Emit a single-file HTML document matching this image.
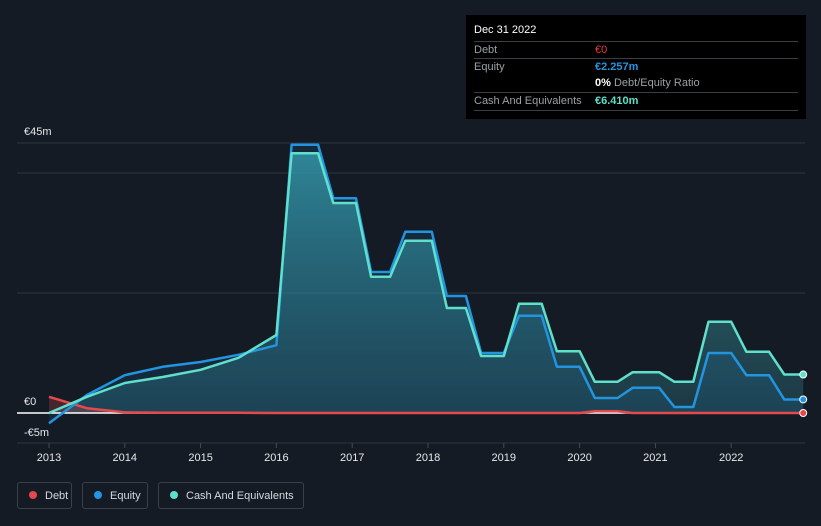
<!DOCTYPE html>
<html><head><meta charset="utf-8"><style>
body{margin:0;background:#151b24;font-family:"Liberation Sans",sans-serif;}
#wrap{position:relative;width:821px;height:526px;overflow:hidden;background:#151b24;}
svg{position:absolute;left:0;top:0}
.tip{position:absolute;left:466px;top:15px;width:340px;height:104px;background:#000;color:#9aa0a6;font-size:11px}
.tip .row{position:absolute;left:8px;right:8px;border-top:1px solid #3a3f45;height:17px;line-height:17px}
.leg{position:absolute;top:482px;height:27px;border:1px solid #3a4049;border-radius:3px;color:#d6d9dc;font-size:11px;line-height:27px;box-sizing:border-box}
.leg i{display:inline-block;width:8px;height:8px;border-radius:50%;margin:0 8px 0 11px;vertical-align:-0px}
</style></head><body>
<div id="wrap">
<svg id="chart" width="821" height="526"></svg>
<div class="tip">
 <div style="position:absolute;left:8px;top:9px;color:#fff;font-size:11px">Dec 31 2022</div>
 <div class="row" style="top:26px">Debt<span style="position:absolute;left:121px;color:#e5393c">€0</span></div>
 <div class="row" style="top:43px">Equity<span style="position:absolute;left:121px;color:#2394df;font-weight:bold">€2.257m</span></div>
 <div class="row" style="top:60px;border-top:none"><span style="position:absolute;left:121px"><b style="color:#fff">0%</b> Debt/Equity Ratio</span></div>
 <div class="row" style="top:77px;border-bottom:1px solid #3a3f45">Cash And Equivalents<span style="position:absolute;left:121px;color:#5fe0cc;font-weight:bold">€6.410m</span></div>
</div>
<div class="leg" style="left:17px;width:55px"><i style="background:#e5484d"></i>Debt</div>
<div class="leg" style="left:82px;width:66px"><i style="background:#2394df"></i>Equity</div>
<div class="leg" style="left:158px;width:146px"><i style="background:#5fe0cc"></i>Cash And Equivalents</div>
</div>
<script>
const years=[2013,2013.5,2014,2014.5,2015,2015.5,2016,2016.2,2016.55,2016.75,2017.05,2017.25,2017.5,2017.7,2018.05,2018.25,2018.5,2018.7,2019,2019.2,2019.5,2019.7,2020,2020.2,2020.5,2020.7,2021.05,2021.25,2021.5,2021.7,2022,2022.2,2022.5,2022.7,2022.95];
const equity=[-1.7,3,6.3,7.7,8.5,9.7,11.3,44.7,44.7,35.8,35.8,23.5,23.5,30.2,30.2,19.5,19.5,10,10,16.2,16.2,7.7,7.7,2.5,2.5,4.2,4.2,1,1,10,10,6.3,6.3,2.257,2.257];
const cash=[0,2.7,5,6,7.2,9.2,13,43.3,43.3,35,35,22.7,22.7,28.7,28.7,17.5,17.5,9.5,9.5,18.2,18.2,10.3,10.3,5.2,5.2,6.8,6.8,5.2,5.2,15.2,15.2,10.2,10.2,6.41,6.41];
const debt=[2.7,0.8,0.1,0.05,0.05,0.05,0,0,0,0,0,0,0,0,0,0,0,0,0,0,0,0,0,0.3,0.3,0,0,0,0,0,0,0,0,0,0];
const yTicks=[45,0,-5];const yTickLabels=["€45m","€0","-€5m"];
const gridVals=[45,40,20,-5];
const xTicks=[2013,2014,2015,2016,2017,2018,2019,2020,2021,2022];
const X=v=>49+(v-2013)*75.8, Y=v=>413-v*6;
const NS='http://www.w3.org/2000/svg', svg=document.getElementById('chart');
function mk(t,a,p){const e=document.createElementNS(NS,t);for(const k in a)e.setAttribute(k,a[k]);(p||svg).appendChild(e);return e;}
const defs=mk('defs',{});
const g=mk('linearGradient',{id:'gc',x1:0,y1:0,x2:0,y2:1},defs);
mk('stop',{offset:0,'stop-color':'#3aa6b0','stop-opacity':0.75},g);mk('stop',{offset:1,'stop-color':'#2a6f7c','stop-opacity':0.35},g);
gridVals.forEach(v=>{const l=mk('line',{x1:17,x2:805,y1:Y(v),y2:Y(v),stroke:'#2e343d','stroke-width':1});
});
yTicks.forEach((v,i)=>{const t=mk('text',{x:24,y:Y(v)-(v===-5?-23+30:8),fill:'#e6e8ea','font-size':11});t.textContent=yTickLabels[i];
});
xTicks.forEach(v=>{mk('line',{x1:X(v),x2:X(v),y1:443,y2:448,stroke:'#444a52'});
const t=mk('text',{x:X(v),y:461,fill:'#e6e8ea','font-size':11,'text-anchor':'middle'});t.textContent=v;
});
const pts=a=>a.map((v,i)=>X(years[i]).toFixed(1)+','+Y(v).toFixed(1)).join(' ');
const xe=X(years[years.length-1]);
function area(a,fill,name){const p=mk('polygon',{points:pts(a)+' '+xe+','+Y(0)+' '+X(2013)+','+Y(0),fill:fill});
}
area(cash,'url(#gc)','cash-area');
area(equity,'rgba(35,148,223,0.12)','equity-area');
area(debt,'rgba(229,72,77,0.25)','debt-area');
mk('line',{x1:17,x2:805,y1:Y(0),y2:Y(0),stroke:'#ffffff','stroke-width':1.5});
function line(a,c,name){const p=mk('polyline',{points:pts(a),fill:'none',stroke:c,'stroke-width':2.5,'stroke-linejoin':'round'});

const d=mk('circle',{cx:xe,cy:Y(a[a.length-1]),r:3.5,fill:c,stroke:'#fff','stroke-width':1});
}
line(debt,'#e5484d','debt-line');
line(equity,'#2394df','equity-line');
line(cash,'#5fe0cc','cash-line');
</script>
</body></html>
